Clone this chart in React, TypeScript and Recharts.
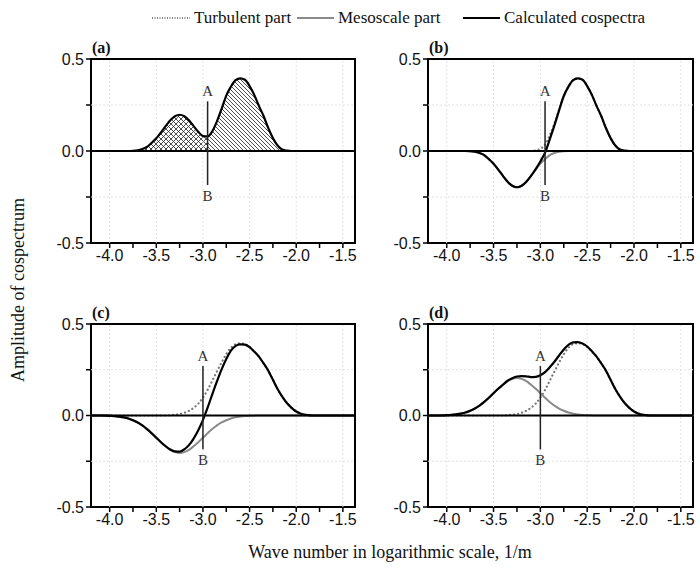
import React from 'react';
import {
  Area,
  ComposedChart,
  Label,
  Line,
  ReferenceArea,
  ReferenceDot,
  ReferenceLine,
  XAxis,
  YAxis,
} from 'recharts';

// log10 wave number, 1/m
const waveNumber = [
  -4.2, -4.1, -4.0, -3.95, -3.9, -3.85, -3.8, -3.75, -3.7, -3.65, -3.6, -3.55,
  -3.5, -3.45, -3.4, -3.35, -3.3, -3.25, -3.2, -3.15, -3.1, -3.05, -3.0, -2.95,
  -2.9, -2.85, -2.8, -2.75, -2.7, -2.65, -2.6, -2.55, -2.5, -2.45, -2.4, -2.35,
  -2.3, -2.25, -2.2, -2.15, -2.1, -2.05, -2.0, -1.95, -1.9, -1.85, -1.8, -1.7,
  -1.6, -1.5, -1.37,
];

// turbulent / mesoscale parts, narrow spectra (a, b)
const turbulentNarrow = [
  0, 0, 0, 0, 0, 0, 0, 0, 0, 0, 0, 0,
  0, 0, 0, 0, 0, 0, 0, 0, 0, 0.003, 0.012, 0.035,
  0.085, 0.15, 0.225, 0.3, 0.35, 0.385, 0.395, 0.387, 0.353, 0.305, 0.245, 0.19,
  0.125, 0.07, 0.03, 0.008, 0.002, 0, 0, 0, 0, 0, 0, 0,
  0, 0, 0,
];
const mesoscaleNarrow = [
  0, 0, 0, 0, 0, 0, 0, 0.001, 0.004, 0.011, 0.022, 0.044,
  0.069, 0.101, 0.135, 0.167, 0.189, 0.197, 0.189, 0.167, 0.135, 0.101, 0.069, 0.044,
  0.022, 0.011, 0.004, 0.001, 0, 0, 0, 0, 0, 0, 0, 0,
  0, 0, 0, 0, 0, 0, 0, 0, 0, 0, 0, 0,
  0, 0, 0,
];

// turbulent / mesoscale parts, wide spectra (c, d)
const turbulentWide = [
  0, 0, 0, 0, 0, 0, 0, 0, 0, 0, 0, 0,
  0, 0, 0, 0.002, 0.004, 0.008, 0.015, 0.026, 0.042, 0.065, 0.098, 0.14,
  0.19, 0.24, 0.29, 0.335, 0.37, 0.39, 0.395, 0.39, 0.375, 0.35, 0.322, 0.285,
  0.245, 0.195, 0.145, 0.103, 0.068, 0.042, 0.022, 0.01, 0.004, 0.001, 0, 0,
  0, 0, 0,
];
const mesoscaleWide = [
  0, 0, 0.002, 0.003, 0.006, 0.01, 0.016, 0.026, 0.038, 0.054, 0.074, 0.097,
  0.122, 0.146, 0.168, 0.188, 0.2, 0.205, 0.2, 0.188, 0.168, 0.146, 0.122, 0.097,
  0.074, 0.054, 0.038, 0.026, 0.016, 0.01, 0.006, 0.003, 0.002, 0.001, 0, 0,
  0, 0, 0, 0, 0, 0, 0, 0, 0, 0, 0, 0,
  0, 0, 0,
];

const xTicks = [-4, -3.75, -3.5, -3.25, -3, -2.75, -2.5, -2.25, -2, -1.75, -1.5];
const xMajor = [-4, -3.5, -3, -2.5, -2, -1.5];
const yTicks = [-0.5, -0.25, 0, 0.25, 0.5];

const SANS = '"Liberation Sans", Arial, sans-serif';
const SERIF = '"Liberation Serif", "Times New Roman", serif';

const X_DOMAIN: [number, number] = [-4.2, -1.37];

type Row = {
  x: number;
  turb: number;
  meso: number;
  total: number;
  left: number | null;
  right: number | null;
};

const buildRows = (turb: number[], meso: number[], sign: number, cut: number): Row[] =>
  waveNumber.map((x, i) => {
    const m = sign * meso[i];
    const total = +(turb[i] + m).toFixed(3);
    return {
      x,
      turb: turb[i],
      meso: m,
      total,
      left: x <= cut + 1e-9 ? total : null,
      right: x >= cut - 1e-9 ? total : null,
    };
  });

type PanelProps = {
  tag: string;
  left: number;
  top: number;
  plotW: number;
  plotH: number;
  rows: Row[];
  cut: number;
  hatched?: boolean;
};

const fmtX = (v: number) => (xMajor.some((m) => Math.abs(m - v) < 1e-6) ? v.toFixed(1) : '');
const fmtY = (v: number) => (Math.abs(v) === 0.25 ? '' : v.toFixed(1));

const Panel = ({ tag, left, top, plotW, plotH, rows, cut, hatched }: PanelProps) => {
  const yAxisW = 55;
  const mTop = 20;
  return (
    <div style={{ position: 'absolute', left: left - yAxisW, top: top - mTop }}>
      <div
        style={{
          position: 'absolute',
          left: yAxisW + 1,
          top: 1,
          fontFamily: SERIF,
          fontWeight: 'bold',
          fontSize: 16,
          lineHeight: '16px',
        }}
      >
        ({tag})
      </div>
      <ComposedChart
        width={yAxisW + plotW + 4}
        height={mTop + plotH + 40}
        data={rows}
        margin={{ top: mTop, right: 4, bottom: 0, left: 0 }}
      >
        <defs>
          <pattern id="crossHatch" width={5} height={5} patternUnits="userSpaceOnUse">
            <path d="M0,0 L5,5 M5,0 L0,5" stroke="#222" strokeWidth={0.8} />
          </pattern>
          <pattern id="diagHatch" width={4} height={4} patternUnits="userSpaceOnUse">
            <path d="M-1,-1 L5,5 M-1,3 L1,5 M3,-1 L5,1" stroke="#222" strokeWidth={0.8} />
          </pattern>
        </defs>
        <XAxis
          type="number"
          dataKey="x"
          domain={X_DOMAIN}
          ticks={xTicks}
          interval={0}
          tickFormatter={fmtX}
          axisLine={false}
          tickLine={{ stroke: '#000', strokeWidth: 1.5 }}
          tickSize={5}
          height={40}
          tick={{ fill: '#111', fontSize: 16, fontFamily: SANS }}
        />
        <YAxis
          type="number"
          domain={[-0.5, 0.5]}
          ticks={yTicks}
          interval={0}
          tickFormatter={fmtY}
          axisLine={false}
          tickLine={{ stroke: '#000', strokeWidth: 1.5 }}
          tickSize={5}
          width={yAxisW}
          tick={{ fill: '#111', fontSize: 16, fontFamily: SANS }}
        />
        {xMajor.map((v) => (
          <ReferenceLine key={`gx${v}`} x={v} stroke="#e2e2e2" strokeDasharray="2 2" />
        ))}
        <ReferenceLine y={0.25} stroke="#e2e2e2" strokeDasharray="2 2" />
        <ReferenceLine y={-0.25} stroke="#e2e2e2" strokeDasharray="2 2" />
        {hatched && (
          <Area
            dataKey="left"
            type="monotone"
            baseValue={0}
            stroke="none"
            fill="url(#crossHatch)"
            fillOpacity={1}
            isAnimationActive={false}
          />
        )}
        {hatched && (
          <Area
            dataKey="right"
            type="monotone"
            baseValue={0}
            stroke="none"
            fill="url(#diagHatch)"
            fillOpacity={1}
            isAnimationActive={false}
          />
        )}
        {!hatched && (
          <Line
            dataKey="turb"
            type="monotone"
            stroke="#777"
            strokeWidth={2.2}
            strokeDasharray="0.1 4"
            strokeLinecap="round"
            dot={false}
            activeDot={false}
            isAnimationActive={false}
          />
        )}
        {!hatched && (
          <Line
            dataKey="meso"
            type="monotone"
            stroke="#8a8a8a"
            strokeWidth={2}
            dot={false}
            activeDot={false}
            isAnimationActive={false}
          />
        )}
        {/* zero line sits over the part curves where they are flat */}
        <ReferenceLine y={0} stroke="#000" strokeWidth={2} />
        <Line
          dataKey="total"
          type="monotone"
          stroke="#000"
          strokeWidth={2.2}
          dot={false}
          activeDot={false}
          isAnimationActive={false}
        />
        <ReferenceLine
          segment={[
            { x: cut, y: 0.27 },
            { x: cut, y: -0.185 },
          ]}
          stroke="#222"
          strokeWidth={1.5}
        />
        <ReferenceDot x={cut} y={0.27} r={0} fill="none" stroke="none">
          <Label value="A" position="top" offset={5} fill="#333" fontSize={15} fontFamily={SERIF} />
        </ReferenceDot>
        <ReferenceDot x={cut} y={-0.185} r={0} fill="none" stroke="none">
          <Label value="B" position="bottom" offset={5} fill="#333" fontSize={15} fontFamily={SERIF} />
        </ReferenceDot>
        <ReferenceArea
          x1={X_DOMAIN[0]}
          x2={X_DOMAIN[1]}
          y1={-0.5}
          y2={0.5}
          fill="none"
          stroke="#000"
          strokeWidth={2}
          ifOverflow="visible"
        />
      </ComposedChart>
    </div>
  );
};

const LegendItem = ({
  x,
  text,
  stroke,
  dash,
  width = 37,
}: {
  x: number;
  text: string;
  stroke: string;
  dash?: string;
  width?: number;
}) => (
  <div style={{ position: 'absolute', left: x, top: 7, display: 'flex', alignItems: 'center' }}>
    <svg width={width} height={22}>
      <line
        x1={0}
        x2={width}
        y1={11}
        y2={11}
        stroke={stroke}
        strokeWidth={dash ? 1.4 : 2}
        strokeDasharray={dash}
      />
    </svg>
    <span style={{ marginLeft: 4, fontFamily: SERIF, fontSize: 17, lineHeight: '22px' }}>{text}</span>
  </div>
);

const App = () => {
  const rowsA = buildRows(turbulentNarrow, mesoscaleNarrow, 1, -2.95);
  const rowsB = buildRows(turbulentNarrow, mesoscaleNarrow, -1, -2.95);
  const rowsC = buildRows(turbulentWide, mesoscaleWide, -1, -3.0);
  const rowsD = buildRows(turbulentWide, mesoscaleWide, 1, -3.0);

  return (
    <div
      style={{
        position: 'absolute',
        left: 0,
        top: 0,
        width: 697,
        height: 574,
        background: '#fff',
        overflow: 'hidden',
        color: '#111',
      }}
    >
      <LegendItem x={152} text="Turbulent part" stroke="#555" dash="1 1.5" width={38} />
      <LegendItem x={297} text="Mesoscale part" stroke="#8a8a8a" />
      <LegendItem x={463} text="Calculated cospectra" stroke="#000" />

      <Panel tag="a" left={91} top={59} plotW={264} plotH={184} rows={rowsA} cut={-2.95} hatched />
      <Panel tag="b" left={428} top={59} plotW={265} plotH={184} rows={rowsB} cut={-2.95} />
      <Panel tag="c" left={91} top={324} plotW={264} plotH={183} rows={rowsC} cut={-3.0} />
      <Panel tag="d" left={428} top={324} plotW={265} plotH={183} rows={rowsD} cut={-3.0} />

      <div
        style={{
          position: 'absolute',
          left: 18,
          top: 290,
          transform: 'translate(-50%, -50%) rotate(-90deg)',
          whiteSpace: 'nowrap',
          fontFamily: SERIF,
          fontSize: 18,
        }}
      >
        Amplitude of cospectrum
      </div>
      <div
        style={{
          position: 'absolute',
          left: 390,
          top: 552,
          transform: 'translate(-50%, -50%)',
          whiteSpace: 'nowrap',
          fontFamily: SERIF,
          fontSize: 18,
        }}
      >
        Wave number in logarithmic scale, 1/m
      </div>
    </div>
  );
};

export default App;
